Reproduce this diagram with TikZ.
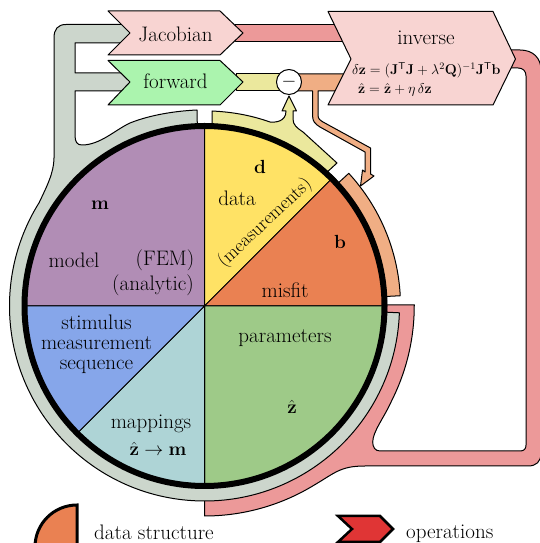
\documentclass[tikz,border=0pt]{standalone}
\usepackage{fix-cm}
\usepackage{amsmath}
\usetikzlibrary{calc}
\definecolor{pinkband}{HTML}{EC9999}
\definecolor{grayband}{HTML}{CCD6CC}
\definecolor{yelband}{HTML}{EBE89D}
\definecolor{orgband}{HTML}{F0AE84}
\definecolor{cpurple}{HTML}{B18DB5}
\definecolor{cyellow}{HTML}{FFE265}
\definecolor{corange}{HTML}{EA8152}
\definecolor{cgreen}{HTML}{9ECA88}
\definecolor{cteal}{HTML}{AED4D6}
\definecolor{cblue}{HTML}{86A6EA}
\definecolor{cpale}{HTML}{F8D4D2}
\definecolor{cmint}{HTML}{ABF4AE}
\definecolor{cred}{HTML}{E03535}
\tikzset{
  outl/.style={draw=black,line width=1pt,line join=round},
  sect/.style={outl},
  big/.style={font=\fontsize{21}{22}\selectfont,inner sep=0pt,align=center},
  bigm/.style={font=\fontsize{19}{22}\selectfont,inner sep=0pt,align=center},
  small/.style={font=\fontsize{14.2}{16}\selectfont,inner sep=0pt,anchor=west},
}
\begin{document}
\begin{tikzpicture}[x=1pt,y=1pt]
\useasboundingbox (0,0) rectangle (539,543);
\coordinate (c) at (204.5,237);
% pink band
\draw[outl,fill=pinkband] (235,518) rectangle (345,501.5);
\draw[outl,fill=pinkband] (204.5,60) -- (204.5,27)
  arc[start angle=-90,end angle=-59,radius=210pt]
  .. controls (335,70) and (340,77) .. (365,77)
  -- (528,77) .. controls (536,77) and (541,81) .. (541,90)
  -- (541,473) .. controls (541,485) and (533,493) .. (520,493)
  -- (505,493) -- (505,475) -- (518,475) .. controls (523,475) and (526,472) .. (526,467)
  -- (526,98) .. controls (526,94) and (524,92) .. (520,92)
  -- (380,92) .. controls (375,92) and (372.7,96) .. (372.7,101)
  .. controls (373,112) and (384,125) .. (392,143)
  arc[start angle=-26.6,end angle=0,radius=210pt] -- (414.5,238) -- (385,238) -- cycle;
% gray band
\draw[outl,fill=grayband] ($(c)+(-2:195)$)
  arc[start angle=-2,end angle=-212,radius=195pt]
  .. controls (46,355) and (54,370) .. (54,385)
  -- (54,505) .. controls (54,514) and (58,518.5) .. (66,518.5)
  -- (130,518.5) -- (130,500) -- (75,500) -- (75,470) -- (130,470) -- (130,452) -- (75,452)
  -- (75,408) .. controls (75,401) and (77,398) .. (82,398)
  .. controls (100,398) and (115,413) .. (130,420)
  .. controls (150,428) and (175,432) .. (197,433)
  -- (197.3,419) arc[start angle=92.3,end angle=-2,radius=182pt] -- cycle;
% yellow band
\draw[outl,fill=yelband] (236,469) -- (285,469) -- (285,452) -- (236,452) -- cycle;
\draw[outl,fill=yelband] (212,432) .. controls (232,431) and (250,428) .. (270,421)
  .. controls (275,420.5) and (286,421) .. (286,432)
  -- (282,432) -- (289,447) -- (296.5,432) -- (293,432) -- (293,424)
  .. controls (293,418) and (297,415) .. (303,411)
  -- (337,380) -- ($(c)+(47.5:182)$)
  arc[start angle=47.5,end angle=87.6,radius=182pt] -- cycle;
% orange band
\draw[outl,fill=orgband] (294,469) -- (345,469) -- (345,452) -- (318,452) -- (318,428)
  .. controls (318,424) and (320,423) .. (323,421)
  -- (370.5,395) -- (370.5,369) -- (374,367) -- (360.5,357) -- (362.5,373) -- (365,371)
  -- (365,391) -- (320,416) .. controls (315,419) and (312.7,422) .. (312.7,426)
  -- (312.7,452) -- (294,452) -- cycle;
\draw[outl,fill=orgband] ($(c)+(42.6:196)$)
  arc[start angle=42.6,end angle=3,radius=196pt] -- ($(c)+(3:182)$)
  arc[start angle=3,end angle=42.6,radius=182pt] -- cycle;
% sectors
\draw[sect,fill=cpurple] (c) -- ++(90:180) arc[start angle=90,end angle=180,radius=180pt] -- cycle;
\draw[sect,fill=cyellow] (c) -- ++(45:180) arc[start angle=45,end angle=90,radius=180pt] -- cycle;
\draw[sect,fill=corange] (c) -- ++(0:180) arc[start angle=0,end angle=45,radius=180pt] -- cycle;
\draw[sect,fill=cgreen] (c) -- ++(-90:180) arc[start angle=-90,end angle=0,radius=180pt] -- cycle;
\draw[sect,fill=cteal] (c) -- ++(-135:180) arc[start angle=-135,end angle=-90,radius=180pt] -- cycle;
\draw[sect,fill=cblue] (c) -- ++(180:180) arc[start angle=180,end angle=225,radius=180pt] -- cycle;
\draw[line width=6pt,draw=black] (c) circle[radius=180pt];
% operations
\draw[outl,fill=cpale] (108,532) -- (220,532) -- (243,510) -- (220,488) -- (108,488) -- (130,510) -- cycle;
\draw[outl,fill=cmint] (108,482.5) -- (220,482.5) -- (243,461) -- (220,438) -- (108,438) -- (130,461) -- cycle;
\draw[outl,fill=cpale] (328,531.5) -- (493,531.5) -- (515.5,484) -- (493,438) -- (328,438) -- (351,484) -- cycle;
\node[big] (jac) at (175.5,509) {Jacobian};
\node[big] (fwd) at (175.5,461.5) {forward};
\node[big] (inv) at (426,505) {inverse};
\node[small] (eq1) at (352,473) {$\delta\mathbf{z}=(\mathbf{J}^{\mathsf{T}}\mathbf{J}+\lambda^2\mathbf{Q})^{-1}\mathbf{J}^{\mathsf{T}}\mathbf{b}$};
\node[small] (eq2) at (358,453) {$\hat{\mathbf{z}}=\hat{\mathbf{z}}+\eta\,\delta\mathbf{z}$};
\node[outl,circle,fill=white,minimum size=25pt,inner sep=0pt] (minus) at (289,461) {};
\node[bigm] (minussign) at (minus) {$-$};
% labels
\node[bigm] (d) at (260,376) {$\mathbf{d}$};
\node[big] (data) at (237,345) {data};
\node[bigm,rotate=43] (meas) at (265,320) {(measurements)};
\node[bigm] (b) at (340,301) {$\mathbf{b}$};
\node[big] (misfit) at (285,253) {misfit};
\node[bigm] (m) at (100,338) {$\mathbf{m}$};
\node[big] (model) at (74,283) {model};
\node[big] (fem) at (165,283) {(FEM)};
\node[big] (analytic) at (153,258) {(analytic)};
\node[big] (stim) at (96.5,199) {stimulus\\[-2pt]measurement\\[-2pt]sequence};
\node[big] (map) at (151,119) {mappings};
\node[bigm] (zm) at (158,94) {$\hat{\mathbf{z}}\to\mathbf{m}$};
\node[big] (param) at (285,205) {parameters};
\node[bigm] (zhat) at (292,136) {$\hat{\mathbf{z}}$};
% legend
\draw[line width=3pt,fill=corange] (77,-4) -- (77,38) arc[start angle=90,end angle=180,radius=42pt] -- cycle;
\draw[line width=2.5pt,fill=cred,line join=miter] (338,27) -- (380,27) -- (393,14) -- (380,1) -- (338,1) -- (352,14) -- cycle;
\node[big,anchor=base west] (lds) at (94,4) {data structure};
\node[big,anchor=base west] (lop) at (406,5) {operations};
\end{tikzpicture}
\end{document}
